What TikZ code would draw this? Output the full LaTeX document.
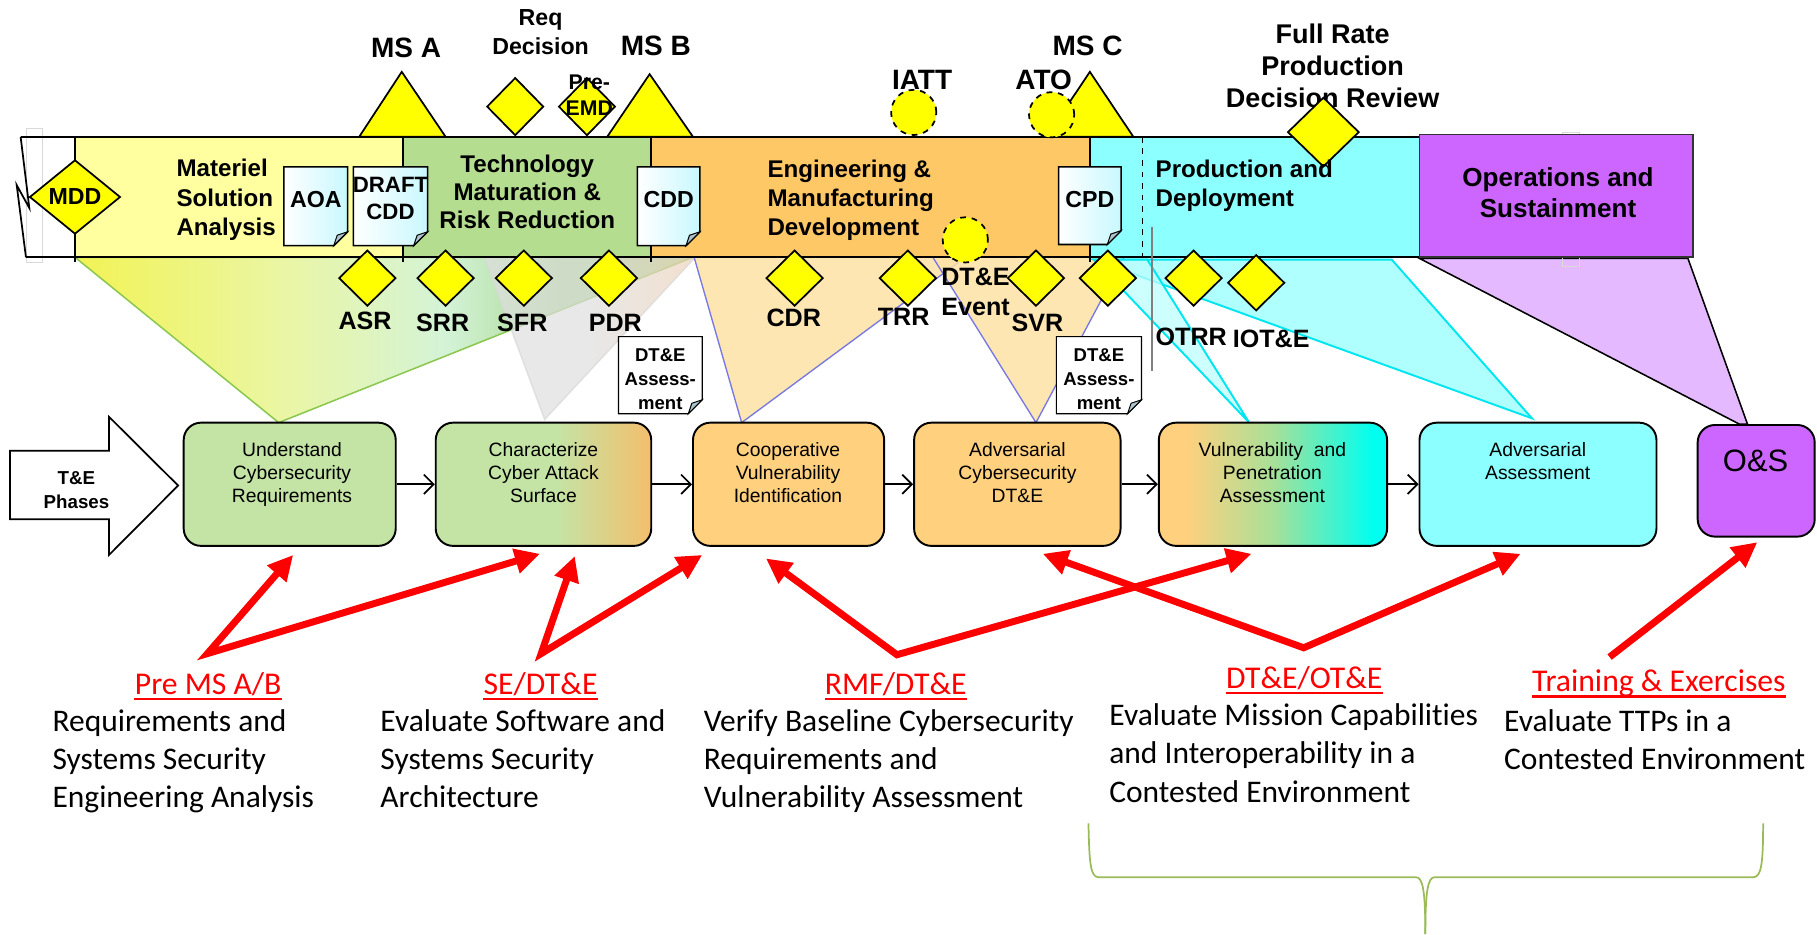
\documentclass[tikz,border=0pt]{standalone}
\usepackage{fontspec}
\setmainfont{Liberation Sans}
\newfontfamily\calibri[Ligatures=NoCommon]{Carlito}
\usetikzlibrary{shapes.geometric,arrows.meta,calc}

\definecolor{msayellow}{RGB}{255,255,160}
\definecolor{tmrrgreen}{RGB}{181,221,143}
\definecolor{emdorange}{RGB}{255,200,102}
\definecolor{pdcyan}{RGB}{140,255,255}
\definecolor{ospurple}{RGB}{204,102,255}
\definecolor{msyellow}{RGB}{255,255,0}
\definecolor{boxgreen}{RGB}{196,228,165}
\definecolor{boxorange}{RGB}{255,208,126}
\definecolor{charorange}{RGB}{244,190,108}
\definecolor{midgreen}{RGB}{168,224,152}
\definecolor{boxcyan}{RGB}{140,255,255}
\definecolor{deepcyan}{RGB}{0,255,240}
\definecolor{fanyellow}{RGB}{242,243,84}
\definecolor{fanpaleyellow}{RGB}{234,246,165}
\definecolor{fanmint}{RGB}{212,243,215}
\definecolor{fangreen}{RGB}{170,216,148}
\definecolor{fanline}{RGB}{140,200,80}
\definecolor{fangray}{RGB}{222,222,222}
\definecolor{fanpeach}{RGB}{238,210,185}
\definecolor{fanorange}{RGB}{253,226,165}
\definecolor{fanblue}{RGB}{120,120,225}
\definecolor{fancyan}{RGB}{150,255,255}
\definecolor{fanpale}{RGB}{190,255,255}
\definecolor{cyanline}{RGB}{0,230,240}
\definecolor{fanpurple}{RGB}{228,185,255}
\definecolor{doccyan}{RGB}{200,248,255}
\definecolor{foldgray}{RGB}{170,195,205}
\definecolor{bracegreen}{RGB}{155,187,89}

\pgfdeclarehorizontalshading{fanmsa}{100bp}{color(0bp)=(fanyellow); color(25bp)=(fanyellow); color(42bp)=(fanpaleyellow); color(55bp)=(fanmint); color(64bp)=(fangreen); color(75bp)=(fangreen); color(100bp)=(fangreen)}
\pgfdeclarehorizontalshading{fangrey}{100bp}{color(0bp)=(fangray); color(25bp)=(fangray); color(50bp)=(fangray); color(75bp)=(fanpeach); color(100bp)=(fanpeach)}
\pgfdeclarehorizontalshading{charshade}{100bp}{color(0bp)=(boxgreen); color(25bp)=(boxgreen); color(53bp)=(boxgreen); color(75bp)=(charorange); color(100bp)=(charorange)}
\pgfdeclarehorizontalshading{vulnshade}{100bp}{color(0bp)=(boxorange); color(25bp)=(boxorange); color(31bp)=(boxorange); color(50bp)=(midgreen); color(72bp)=(deepcyan); color(100bp)=(deepcyan)}

\tikzset{
  msfill/.style={fill=msyellow, draw=black, line width=0.9pt},
  mstone/.style={diamond, fill=msyellow, draw=black, line width=0.9pt, inner sep=0pt, minimum width=29.5pt, minimum height=29pt},
  event/.style={circle, fill=msyellow, draw=black, dashed, line width=0.9pt, inner sep=0pt, minimum size=23.4pt},
  mslabel/.style={font=\bfseries\fontsize{14.5}{14.5}\selectfont, inner sep=0pt},
  revlabel/.style={font=\bfseries\fontsize{13}{15.6}\selectfont, inner sep=0pt},
  toplabel/.style={font=\bfseries\fontsize{12}{15}\selectfont, inner sep=0pt, align=center},
  bandtext/.style={font=\bfseries\fontsize{12.5}{15}\selectfont, inner sep=0pt},
  doctext/.style={font=\bfseries\fontsize{12}{13.8}\selectfont, inner sep=0pt, align=center},
  assesstext/.style={font=\bfseries\fontsize{9.6}{12.4}\selectfont, inner sep=0pt, align=center},
  docfill/.style={draw=black, line width=0.8pt, left color=white, right color=doccyan},
  assessfill/.style={draw=black, line width=0.6pt, fill=white},
  docfold/.style={fill=foldgray, draw=black, line width=0.5pt},
  bandline/.style={draw=black, line width=1.2pt},
  fanorangefill/.style={fill=fanorange, fill opacity=0.85, draw=fanblue, line width=0.7pt},
  fancyanfill/.style={fill=fancyan, fill opacity=0.75, draw=cyanline, line width=1pt},
  phasebox/.style={draw=black, line width=1pt, rounded corners=9pt, inner sep=0pt, minimum height=63.8pt},
  boxtext/.style={font=\fontsize{10}{12}\selectfont, inner sep=0pt, align=center, anchor=north},
  flow/.style={-{Straight Barb[length=5pt,width=10pt]}, line width=0.9pt},
  redpair/.style={{Triangle[length=13pt,width=12.5pt]}-{Triangle[length=13pt,width=12.5pt]}, draw=red, line width=3.6pt, line join=miter},
  redarrow/.style={-{Triangle[length=13pt,width=12.5pt]}, draw=red, line width=3.6pt},
  redlabel/.style={font=\calibri\fontsize{16.4}{16.4}\selectfont, text=red, inner sep=0pt},
  redul/.style={draw=red, line width=1.1pt},
  desc/.style={font=\calibri\fontsize{16.3}{19.8}\selectfont, inner sep=0pt, align=left, anchor=north west},
  bracepath/.style={draw=bracegreen, line width=0.9pt}
}

\newcommand{\docpage}[5][docfill]{%
   \path[#1] (#2,#3) -- (#4,#3) -- (#4,#5-12) -- (#4-12,#5) -- (#2,#5) -- cycle;
   \filldraw[docfold] (#4,#5-12) -- (#4-12,#5) -- (#4-9,#5-9) -- cycle;}

\begin{document}
\begin{tikzpicture}[x=0.6pt,y=-0.6pt]
   \useasboundingbox (0,0) rectangle (1568,806);
   \shadedraw[shading=fanmsa, draw=fanline, line width=0.8pt] (64.7,222) -- (240.5,364.7) -- (598,222) -- cycle;
   \shadedraw[shading=fangrey, draw=gray!30, line width=0.8pt, opacity=0.7] (418,222) -- (470,362) -- (600,222) -- cycle;
   \filldraw[fanorangefill] (599,222) -- (640,364.7) -- (833,222) -- cycle;
   \filldraw[fanorangefill] (805,222) -- (894,364.7) -- (970,222) -- cycle;
   \filldraw[fancyanfill] (944,224) -- (1322,361) -- (1201,224) -- cycle;
   \filldraw[fancyanfill, fill=fanpale] (944,224) -- (1078,364.7) -- (990,224) -- cycle;
   \filldraw[fill=fanpurple, draw=black, line width=0.8pt] (1225,223) -- (1501,366) -- (1508,366) -- (1456.6,223) -- cycle;

   \fill[msayellow] (64.7,118) rectangle (348,222);
   \fill[tmrrgreen] (348,118) rectangle (561.5,222);
   \fill[emdorange] (561.5,118) rectangle (940.6,222);
   \fill[pdcyan] (940.6,118) rectangle (1225,222);
   \draw[gray!30] (23,110.5) rectangle (37,226);
   \draw[gray!30] (1348,114) rectangle (1363,229.5);
   \draw[bandline] (17.8,118) -- (1225,118);
   \draw[bandline] (22.4,222) -- (1225,222);
   \draw[line width=0.9pt] (17.8,118) -- (25.3,179.5) -- (14.4,159.7) -- (22.4,222);
   \draw[bandline] (64.7,118) -- (64.7,226);
   \draw[bandline] (348,118) -- (348,226);
   \draw[bandline] (561.5,118) -- (561.5,226);
   \draw[bandline] (940.6,118) -- (940.6,226);
   \draw[dashed, line width=0.8pt] (986,118) -- (986,222);
   \filldraw[fill=ospurple, draw=black!80, line width=0.8pt] (1225,116) rectangle (1461,222);

   \node[mslabel] (msalabel) at (350.5,41.7) {MS A};
   \node[mslabel] (msblabel) at (566,40) {MS B};
   \node[mslabel] (msclabel) at (938.5,40) {MS C};
   \node[toplabel] (reqlabel) at (466.5,28) {Req\\Decision};
   \node[mslabel] (iattlabel) at (795.7,69) {IATT};
   \node[mslabel] (atolabel) at (900.7,69) {ATO};
   \node[toplabel, font=\bfseries\fontsize{14}{16.5}\selectfont] (frplabel) at (1150,56.5) {Full Rate\\Production\\Decision Review};

   \filldraw[msfill] (310,118) -- (346.7,62) -- (384.5,118) -- cycle;
   \filldraw[msfill] (524,118) -- (560.6,64) -- (598,118) -- cycle;
   \filldraw[msfill] (903,118) -- (940.5,62) -- (978,118) -- cycle;
   \node[event] (iatt) at (788.5,97) {};
   \node[event] (ato) at (907.5,99) {};
   \node[mstone, minimum width=29.4pt, minimum height=30pt] (reqdec) at (444.6,92) {};
   \node[mstone, minimum width=29.4pt, minimum height=30pt] (preemd) at (506.5,92) {};
   \node[toplabel, font=\bfseries\fontsize{11}{13.5}\selectfont] (preemdlabel) at (508.5,82) {Pre-\\EMD};
   \node[mstone, minimum width=47pt, minimum height=38.4pt, font=\bfseries\fontsize{12}{12}\selectfont] (mdd) at (64.7,170) {MDD};

   \node[bandtext, anchor=west, align=left, font=\bfseries\fontsize{12.5}{15.3}\selectfont] (msa) at (152,172.5) {Materiel\\Solution\\Analysis};
   \node[bandtext, align=center, font=\bfseries\fontsize{12.5}{14.7}\selectfont] (tmrr) at (455,165.5) {Technology\\Maturation \&\\Risk Reduction};
   \node[bandtext, anchor=west, align=left] (emd) at (662,173) {Engineering \&\\Manufacturing\\Development};
   \node[mstone, minimum width=37pt, minimum height=36pt] (frp) at (1142,114) {};
   \node[bandtext, anchor=west, align=left] (pd) at (997,160.5) {Production and\\Deployment};
   \node[bandtext, align=center, font=\bfseries\fontsize{13.5}{16.2}\selectfont] (os) at (1344.5,166.5) {Operations and\\Sustainment};

   \docpage{245}{144}{300}{212}
   \docpage{305}{144}{369}{212}
   \docpage{550}{144}{604}{212}
   \docpage{913.5}{144}{967.5}{211}
   \node[doctext] (aoa) at (272.5,172) {AOA};
   \node[doctext, font=\bfseries\fontsize{11.5}{13.8}\selectfont] (draftcdd) at (337,171) {DRAFT\\CDD};
   \node[doctext] (cdd) at (577,172) {CDD};
   \node[doctext] (cpd) at (940.5,172) {CPD};
   \node[event] (dteevent) at (833,207) {};

   \node[mstone] (asr) at (317,240) {};
   \node[mstone] (srr) at (384.5,240) {};
   \node[mstone] (sfr) at (452,240) {};
   \node[mstone] (pdr) at (525.5,240) {};
   \node[mstone] (cdr) at (685.7,240) {};
   \node[mstone] (trr) at (783.4,240) {};
   \node[mstone] (svr) at (894,240) {};
   \node[mstone] (pdstart) at (956,240) {};
   \node[mstone] (otrr) at (1030,240) {};
   \node[mstone] (iote) at (1084,244) {};
   \node[revlabel] (asrlabel) at (315,276.7) {ASR};
   \node[revlabel] (srrlabel) at (382,278.5) {SRR};
   \node[revlabel] (sfrlabel) at (450.7,278.5) {SFR};
   \node[revlabel] (pdrlabel) at (531,279) {PDR};
   \node[revlabel] (cdrlabel) at (685,274.7) {CDR};
   \node[revlabel] (trrlabel) at (779.8,273.3) {TRR};
   \node[revlabel, anchor=west, align=left] (dtelabel) at (812,252) {DT\&E\\Event};
   \node[revlabel] (svrlabel) at (895.3,278.5) {SVR};
   \node[revlabel] (otrrlabel) at (1028,290.5) {OTRR};
   \node[revlabel] (iotelabel) at (1097,292) {IOT\&E};
   \draw[gray, line width=0.7pt] (994,196) -- (994,320);

   \docpage[assessfill]{533.7}{290.5}{606}{357}
   \docpage[assessfill]{911.6}{290.5}{985}{357}
   \node[assesstext] (assessa) at (569.8,327) {DT\&E\\Assess-\\ment};
   \node[assesstext] (assessb) at (948.3,327) {DT\&E\\Assess-\\ment};

   \filldraw[fill=white, draw=black, line width=0.9pt] (8.7,389) -- (94,389) -- (94,359.6) -- (153.7,419) -- (94,479) -- (94,448) -- (8.7,448) -- cycle;
   \node[font=\bfseries\fontsize{9.7}{12.2}\selectfont, align=center, inner sep=0pt] (tephases) at (66,423) {T\&E\\Phases};

   \node[phasebox, fill=boxgreen, minimum width=109.8pt] (understand) at (250,417.9) {};
   \node[phasebox, shade, shading=charshade, minimum width=111.6pt] (characterize) at (469,417.9) {};
   \node[phasebox, fill=boxorange, minimum width=99pt] (cooperative) at (680.5,417.9) {};
   \node[phasebox, fill=boxorange, minimum width=106.9pt] (adversarial) at (877.9,417.9) {};
   \node[phasebox, shade, shading=vulnshade, minimum width=118.2pt] (vulnerability) at (1098.5,417.9) {};
   \node[phasebox, fill=boxcyan, minimum width=122.7pt] (assessment) at (1327.2,417.9) {};
   \node[phasebox, fill=ospurple, minimum width=60.6pt, minimum height=57.8pt] (ops) at (1515.5,414.9) {};
   \node[boxtext] (understandtext) at (252,381.5) {Understand\\Cybersecurity\\Requirements};
   \node[boxtext] (characterizetext) at (469,381.5) {Characterize\\Cyber Attack\\Surface};
   \node[boxtext] (cooperativetext) at (680,381.5) {Cooperative\\Vulnerability\\Identification};
   \node[boxtext] (adversarialtext) at (878,381.5) {Adversarial\\Cybersecurity\\DT\&E};
   \node[boxtext] (vulnerabilitytext) at (1098,381.5) {Vulnerability~ and\\Penetration\\Assessment};
   \node[boxtext] (assessmenttext) at (1327,381.5) {Adversarial\\Assessment};
   \node[font=\fontsize{16}{16}\selectfont, inner sep=0pt] (opstext) at (1515,397.4) {O\&S};
   \draw[flow] (understand) -- (characterize);
   \draw[flow] (characterize) -- (cooperative);
   \draw[flow] (cooperative) -- (adversarial);
   \draw[flow] (adversarial) -- (vulnerability);
   \draw[flow] (vulnerability) -- (assessment);

   \coordinate (premsab) at (179,564);
   \coordinate (sedte) at (467,564);
   \coordinate (rmfdte) at (774,565);
   \coordinate (dteote) at (1125,559);
   \coordinate (training) at (1389,567);
   \draw[redpair] ($(understand.south)+(3,7)$) -- (premsab) -- ($(characterize.south)+(-3,6)$);
   \draw[redpair] ($(characterize.south)+(27,8)$) -- (sedte) -- ($(cooperative.south)+(-74.5,7)$);
   \draw[redpair] ($(cooperative.south)+(-19.5,10)$) -- (rmfdte) -- ($(vulnerability.south)+(-18.5,6)$);
   \draw[redpair] ($(adversarial.south)+(22,6)$) -- (dteote) -- ($(assessment.south)+(-15,6)$);
   \draw[redarrow] (training) -- ($(ops.south)+(1,4)$);

   \node[redlabel] (premsablabel) at (179.6,590) {Pre MS A/B};
   \node[redlabel] (sedtelabel) at (466.5,590) {SE/DT\&E};
   \node[redlabel] (rmfdtelabel) at (773,590) {RMF/DT\&E};
   \node[redlabel] (dteotelabel) at (1125.5,585) {DT\&E/OT\&E};
   \node[redlabel] (traininglabel) at (1431.5,590) {Training \& Exercises};
   \draw[redul] ([yshift=-2.4pt]premsablabel.base west) -- ([yshift=-2.4pt]premsablabel.base east);
   \draw[redul] ([yshift=-2.4pt]sedtelabel.base west) -- ([yshift=-2.4pt]sedtelabel.base east);
   \draw[redul] ([yshift=-2.4pt]rmfdtelabel.base west) -- ([yshift=-2.4pt]rmfdtelabel.base east);
   \draw[redul] ([yshift=-2.4pt]dteotelabel.base west) -- ([yshift=-2.4pt]dteotelabel.base east);
   \draw[redul] ([yshift=-2.4pt]traininglabel.base west) -- ([yshift=-2.4pt]traininglabel.base east);

   \node[desc] (premsabdesc) at (45,612) {Requirements and\\Systems Security\\Engineering Analysis};
   \node[desc] (sedtedesc) at (328,612) {Evaluate Software and\\Systems Security\\Architecture};
   \node[desc] (rmfdtedesc) at (607,612) {Verify Baseline Cybersecurity\\Requirements and\\Vulnerability Assessment};
   \node[desc] (dteotedesc) at (957,607) {Evaluate Mission Capabilities\\and Interoperability in a\\Contested Environment};
   \node[desc] (trainingdesc) at (1297.7,612) {Evaluate TTPs in a\\Contested Environment};

   \draw[bracepath] (939.3,710.5) .. controls (940,745) and (941,757) .. (948,757) -- (1222,757) .. controls (1228,757) and (1230,770) .. (1230,806);
   \draw[bracepath] (1230,806) .. controls (1230,770) and (1232,757) .. (1238,757) -- (1513,757) .. controls (1520,757) and (1521.5,745) .. (1521.5,710.5);
\end{tikzpicture}
\end{document}
